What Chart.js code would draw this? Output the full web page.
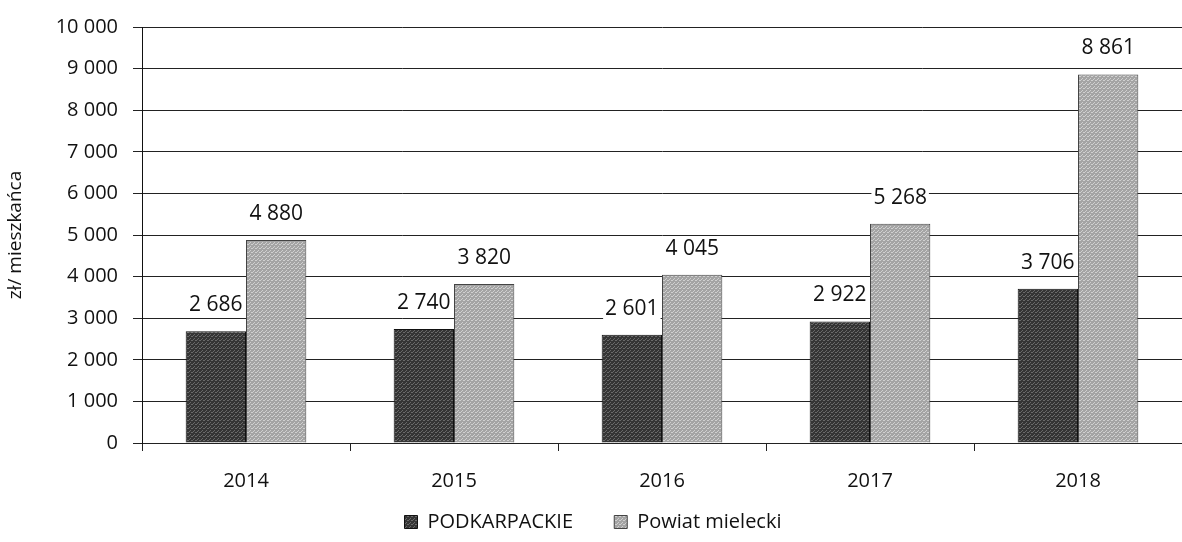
<!DOCTYPE html>
<html>
<head>
<meta charset="utf-8">
<script src="https://cdn.jsdelivr.net/npm/chart.js@4/dist/chart.umd.min.js"></script>
<style>
  html, body { margin: 0; padding: 0; background: #fff; }
  #wrap { width: 1182px; height: 542px; }
</style>
</head>
<body>
<div id="wrap"><canvas id="canvas"></canvas></div>
<script>
const years = ['2014', '2015', '2016', '2017', '2018'];
const podkarpackie = [2686, 2740, 2601, 2922, 3706];
const powiatMielecki = [4880, 3820, 4045, 5268, 8861];
const seriesNames = ['PODKARPACKIE', 'Powiat mielecki'];

const fontFamily = '"Open Sans", Lato, sans-serif';

function fmt(v) {
  return String(v).replace(/\B(?=(\d{3})+(?!\d))/g, ' ');
}

// simple grainy fill so the bars look like the scanned print
function grain(base, light) {
  const c = document.createElement('canvas');
  c.width = 4; c.height = 4;
  const g = c.getContext('2d');
  g.fillStyle = base;
  g.fillRect(0, 0, 4, 4);
  g.fillStyle = light;
  g.fillRect(0, 0, 1, 1);
  g.fillRect(2, 2, 1, 1);
  g.fillRect(3, 0, 1, 1);
  g.fillRect(1, 3, 1, 1);
  return g.createPattern(c, 'repeat');
}

const valueLabels = {
  id: 'valueLabels',
  afterDatasetsDraw(chart) {
    const ctx = chart.ctx;
    ctx.save();
    ctx.font = '21px ' + fontFamily;
    ctx.textAlign = 'center';
    ctx.textBaseline = 'middle';
    chart.data.datasets.forEach((ds, i) => {
      chart.getDatasetMeta(i).data.forEach((bar, j) => {
        const txt = fmt(ds.data[j]);
        const y = bar.y - 26;
        const w = ctx.measureText(txt).width;
        ctx.fillStyle = '#fff';
        ctx.fillRect(bar.x - w / 2 - 2, y - 12, w + 4, 24);
        ctx.fillStyle = '#111';
        ctx.fillText(txt, bar.x, y);
      });
    });
    ctx.restore();
  }
};

window.onload = () => {
  const ctx = document.getElementById('canvas').getContext('2d');
  new Chart(ctx, {
    type: 'bar',
    data: {
      labels: years,
      datasets: [
        {
          label: seriesNames[0],
          data: podkarpackie,
          backgroundColor: grain('#353535', '#6a6a6a'),
          borderColor: '#111',
          borderWidth: 1,
          categoryPercentage: 0.58,
          barPercentage: 1.0
        },
        {
          label: seriesNames[1],
          data: powiatMielecki,
          backgroundColor: grain('#a4a4a4', '#d0d0d0'),
          borderColor: '#444',
          borderWidth: 1,
          categoryPercentage: 0.58,
          barPercentage: 1.0
        }
      ]
    },
    options: {
      responsive: true,
      maintainAspectRatio: false,
      animation: false,
      layout: { padding: { top: 22, right: 0, left: 4, bottom: 0 } },
      plugins: {
        legend: {
          position: 'bottom',
          labels: {
            boxWidth: 13,
            boxHeight: 13,
            padding: 10,
            color: '#111',
            font: { family: fontFamily, size: 20 },
            generateLabels(chart) {
              const items = Chart.defaults.plugins.legend.labels.generateLabels(chart);
              // wider gap after the first entry, as in the original legend
              items[0].text = items[0].text + '      ';
              return items;
            }
          }
        },
        tooltip: { enabled: false }
      },
      scales: {
        x: {
          afterFit(scale) { scale.height -= 9; },
          grid: {
            display: true,
            drawOnChartArea: false,
            drawTicks: true,
            tickLength: 8,
            color: '#222',
            offset: true
          },
          border: { color: '#222' },
          ticks: {
            color: '#111',
            padding: 18,
            font: { family: fontFamily, size: 20 }
          }
        },
        y: {
          min: 0,
          max: 10000,
          afterFit(scale) { scale.width = 138; },
          grid: {
            color: '#222',
            tickLength: 9
          },
          border: { color: '#111' },
          ticks: {
            stepSize: 1000,
            color: '#111',
            padding: 15,
            font: { family: fontFamily, size: 20 },
            callback: v => fmt(v)
          },
          title: {
            display: true,
            text: 'zł/ mieszkańca',
            color: '#111',
            font: { family: fontFamily, size: 19 },
            padding: { top: 0, bottom: 4 }
          }
        }
      }
    },
    plugins: [valueLabels]
  });
};
</script>
</body>
</html>
